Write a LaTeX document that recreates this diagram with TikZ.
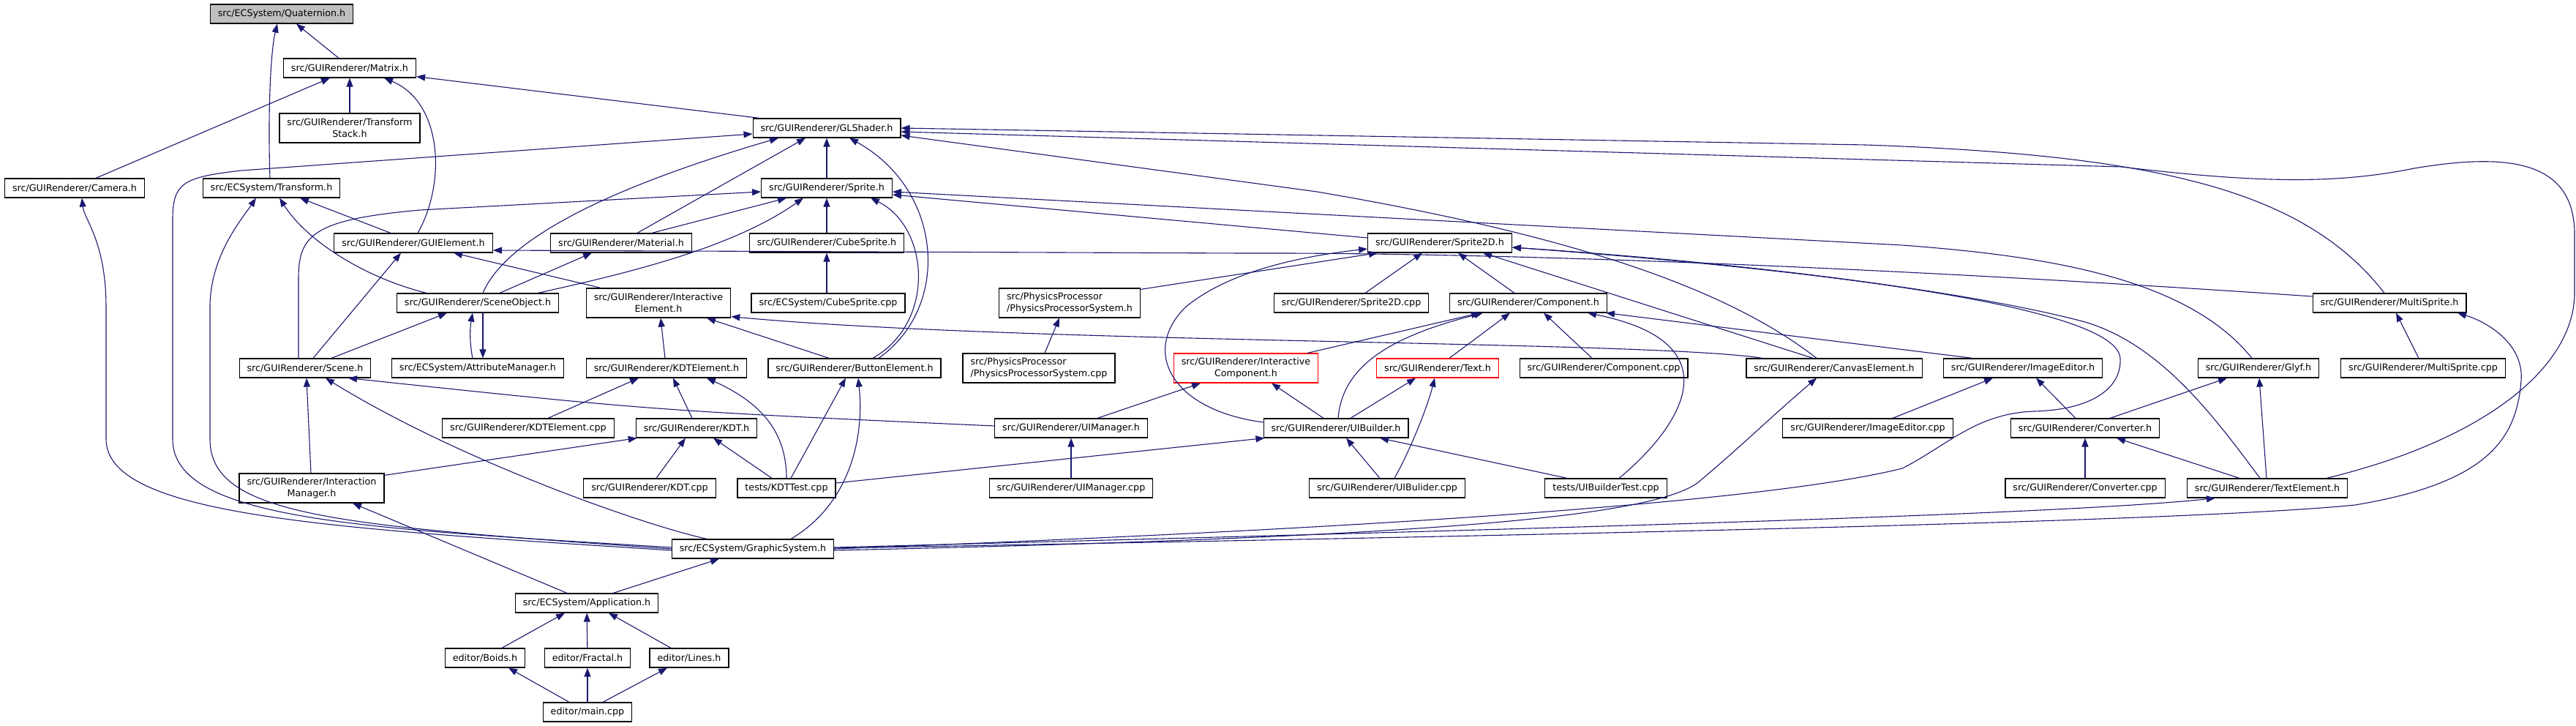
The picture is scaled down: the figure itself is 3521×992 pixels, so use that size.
\documentclass[tikz,border=0pt]{standalone}
\usepackage{fontspec}
\newfontfamily\dejavu{DejaVu Sans}
\usetikzlibrary{arrows.meta}
\definecolor{edgeblue}{HTML}{191970}
\definecolor{headgray}{HTML}{BFBFBF}

\begin{document}
\begin{tikzpicture}[x=1pt,y=-1pt,
  file/.style={draw=black,line width=1.2pt,fill=white,align=center,
    inner xsep=10.5pt,inner ysep=3pt,minimum height=26pt,
    font=\dejavu\fontsize{12.7}{16}\selectfont},
  twoline/.style={minimum height=40pt},
  trunc/.style={file,draw=red},
  inc/.style={draw=edgeblue,line width=1.1pt,-{Triangle[length=12pt,width=9pt]}}]

\useasboundingbox (0,0) rectangle (3521,992);

% files
\node[file,fill=headgray] (Quaternion) at (385,19) {src/ECSystem/Quaternion.h};
\node[file] (Matrix) at (478,93) {src/GUIRenderer/Matrix.h};
\node[file,twoline] (TransformStack) at (478,175) {src/GUIRenderer/Transform\\Stack.h};
\node[file] (GLShader) at (1130,175) {src/GUIRenderer/GLShader.h};
\node[file] (Camera) at (102,257) {src/GUIRenderer/Camera.h};
\node[file] (Transform) at (371,257) {src/ECSystem/Transform.h};
\node[file] (Sprite) at (1130,257) {src/GUIRenderer/Sprite.h};
\node[file] (GUIElement) at (565,332) {src/GUIRenderer/GUIElement.h};
\node[file] (Material) at (849,332) {src/GUIRenderer/Material.h};
\node[file] (CubeSprite) at (1130,332) {src/GUIRenderer/CubeSprite.h};
\node[file] (Sprite2D) at (1968,332) {src/GUIRenderer/Sprite2D.h};
\node[file] (SceneObject) at (653,414) {src/GUIRenderer/SceneObject.h};
\node[file,twoline] (InteractiveElement) at (900,414) {src/GUIRenderer/Interactive\\Element.h};
\node[file] (CubeSpriteCpp) at (1132,414) {src/ECSystem/CubeSprite.cpp};
\node[file,twoline,align=left] (PhysicsH) at (1462,414) {src/PhysicsProcessor\\/PhysicsProcessorSystem.h};
\node[file] (Sprite2DCpp) at (1847,414) {src/GUIRenderer/Sprite2D.cpp};
\node[file] (Component) at (2089,414) {src/GUIRenderer/Component.h};
\node[file] (MultiSprite) at (3266,414) {src/GUIRenderer/MultiSprite.h};
\node[file] (Scene) at (417,503) {src/GUIRenderer/Scene.h};
\node[file] (AttributeManager) at (653,503) {src/ECSystem/AttributeManager.h};
\node[file] (KDTElement) at (911,503) {src/GUIRenderer/KDTElement.h};
\node[file] (ButtonElement) at (1168,503) {src/GUIRenderer/ButtonElement.h};
\node[file,twoline,align=left] (PhysicsCpp) at (1420,503) {src/PhysicsProcessor\\/PhysicsProcessorSystem.cpp};
\node[trunc,twoline] (InteractiveComponent) at (1703,503) {src/GUIRenderer/Interactive\\Component.h};
\node[trunc] (Text) at (1965,503) {src/GUIRenderer/Text.h};
\node[file] (ComponentCpp) at (2192,503) {src/GUIRenderer/Component.cpp};
\node[file] (CanvasElement) at (2507,503) {src/GUIRenderer/CanvasElement.h};
\node[file] (ImageEditor) at (2765,503) {src/GUIRenderer/ImageEditor.h};
\node[file] (Glyf) at (3087,503) {src/GUIRenderer/Glyf.h};
\node[file] (MultiSpriteCpp) at (3312,503) {src/GUIRenderer/MultiSprite.cpp};
\node[file] (KDTElementCpp) at (722,585) {src/GUIRenderer/KDTElement.cpp};
\node[file] (KDT) at (952,585) {src/GUIRenderer/KDT.h};
\node[file] (UIManager) at (1464,585) {src/GUIRenderer/UIManager.h};
\node[file] (UIBuilder) at (1826,585) {src/GUIRenderer/UIBuilder.h};
\node[file] (ImageEditorCpp) at (2553,585) {src/GUIRenderer/ImageEditor.cpp};
\node[file] (Converter) at (2850,585) {src/GUIRenderer/Converter.h};
\node[file,twoline] (InteractionManager) at (426,667) {src/GUIRenderer/Interaction\\Manager.h};
\node[file] (KDTCpp) at (888,667) {src/GUIRenderer/KDT.cpp};
\node[file] (KDTTest) at (1075,667) {tests/KDTTest.cpp};
\node[file] (UIManagerCpp) at (1464,667) {src/GUIRenderer/UIManager.cpp};
\node[file] (UIBuliderCpp) at (1896,667) {src/GUIRenderer/UIBulider.cpp};
\node[file] (UIBuilderTest) at (2195,667) {tests/UIBuilderTest.cpp};
\node[file] (ConverterCpp) at (2850,667) {src/GUIRenderer/Converter.cpp};
\node[file] (TextElement) at (3099,667) {src/GUIRenderer/TextElement.h};
\node[file] (GraphicSystem) at (1029,750) {src/ECSystem/GraphicSystem.h};
\node[file] (Application) at (802,824) {src/ECSystem/Application.h};
\node[file] (Boids) at (663,899) {editor/Boids.h};
\node[file] (Fractal) at (803,899) {editor/Fractal.h};
\node[file] (Lines) at (942,899) {editor/Lines.h};
\node[file] (Main) at (803,973) {editor/main.cpp};

% Quaternion, Matrix
\draw[inc] ([xshift=-15pt]Matrix.north) -- ([xshift=20pt]Quaternion.south);
\draw[inc] ([xshift=-2pt]Transform.north) .. controls (366,150) and (370,70) .. ([xshift=-6pt]Quaternion.south);
\draw[inc] (TransformStack) -- (Matrix);
\draw[inc] ([xshift=29pt]Camera.north) -- ([xshift=-27pt]Matrix.south);
\draw[inc] ([xshift=6pt]GUIElement.north) .. controls (610,250) and (605,140) .. ([xshift=47pt]Matrix.south);
\draw[inc] ([xshift=-92pt]GLShader.north) -- ([yshift=2pt]Matrix.south east);

% GLShader
\draw[inc] (Sprite) -- (GLShader);
\draw[inc] ([xshift=22pt]Material.north) -- ([xshift=-29pt]GLShader.south);
\draw[inc] ([xshift=7pt]SceneObject.north) .. controls (690,330) and (820,260) .. ([xshift=-66pt]GLShader.south);
\draw[inc] ([xshift=33pt]ButtonElement.north) .. controls (1300,420) and (1290,260) .. ([xshift=31pt]GLShader.south);
\draw[inc] ([xshift=-24pt]CanvasElement.north) .. controls (2380,410) and (2200,330) .. (1800,262) -- ([yshift=-10pt]GLShader.east);
\draw[inc] ([xshift=-7pt]MultiSprite.north) .. controls (3150,260) and (2950,212) .. (2550,198) -- (GLShader.east);
\draw[inc] ([xshift=81pt]TextElement.north) .. controls (3400,600) and (3519,500) .. (3519,400) -- (3519,320)
  .. controls (3519,215) and (3420,210) .. (3300,230) .. controls (3200,250) and (3100,252) .. (2900,228)
  -- ([yshift=-5pt]GLShader.east);
\draw[inc] ([yshift=2pt]GraphicSystem.west) .. controls (500,722) and (236,712) .. (236,600) -- (236,300)
  .. controls (236,250) and (250,242) .. (330,233) -- ([yshift=-8pt]GLShader.west);

% Camera, Transform
\draw[inc] ([yshift=-2pt]GraphicSystem.west) .. controls (450,722) and (145,705) .. (145,600) -- (145,420)
  .. controls (145,330) and (115,300) .. ([xshift=10pt]Camera.south);
\draw[inc] (GraphicSystem.west) .. controls (460,718) and (287,705) .. (287,600) -- (287,420)
  .. controls (287,350) and (330,300) .. ([xshift=-21pt]Transform.south);
\draw[inc] ([xshift=-70pt]SceneObject.north) .. controls (500,380) and (420,330) .. ([xshift=11pt]Transform.south);
\draw[inc] ([xshift=-31pt]GUIElement.north) -- ([xshift=39pt]Transform.south);

% Sprite
\draw[inc] (CubeSprite) -- (Sprite);
\draw[inc] ([xshift=42pt]Material.north) -- ([xshift=-55pt]Sprite.south);
\draw[inc] ([xshift=82pt]SceneObject.north) .. controls (850,375) and (1000,340) .. ([xshift=-32pt]Sprite.south);
\draw[inc] ([xshift=25pt]ButtonElement.north) .. controls (1280,440) and (1270,310) .. ([xshift=60pt]Sprite.south);
\draw[inc] ([xshift=-9pt]Scene.north) -- (408,380) .. controls (408,320) and (430,300) .. (574,287) -- ([yshift=-5pt]Sprite.west);
\draw[inc] ([xshift=-9pt]Glyf.north) .. controls (2990,380) and (2800,350) .. (2600,335) -- ([yshift=-5pt]Sprite.east);
\draw[inc] ([yshift=7pt]Sprite2D.west) -- ([yshift=-9pt]Sprite.east);

% GUIElement
\draw[inc] ([xshift=11pt]Scene.north) -- ([xshift=-17pt]GUIElement.south);
\draw[inc] ([xshift=-79pt]InteractiveElement.north) -- ([xshift=55pt]GUIElement.south);
\draw[inc] ([yshift=9pt]MultiSprite.west) .. controls (2500,360) and (2000,345) .. (1700,346) -- ([yshift=-10pt]GUIElement.east);

% SceneObject, Material
\draw[inc] ([xshift=30pt]SceneObject.north) -- ([xshift=-40pt]Material.south);
\draw[inc] ([xshift=36pt]Scene.north) -- ([xshift=-42pt]SceneObject.south);
\draw[inc] ([xshift=-7pt]AttributeManager.north) .. controls (642,470) and (642,450) .. ([xshift=-7pt]SceneObject.south);
\draw[inc] ([xshift=7pt]SceneObject.south) -- ([xshift=7pt]AttributeManager.north);

% InteractiveElement
\draw[inc] ([xshift=-2pt]KDTElement.north) -- ([xshift=3pt]InteractiveElement.south);
\draw[inc] ([xshift=-35pt]ButtonElement.north) -- ([xshift=66pt]InteractiveElement.south);
\draw[inc] ([xshift=-98pt]CanvasElement.north) .. controls (2250,465) and (1400,470) .. ([yshift=2pt]InteractiveElement.south east);

% CubeSprite, PhysicsProcessor
\draw[inc] ([xshift=-2pt]CubeSpriteCpp.north) -- (CubeSprite.south);
\draw[inc] ([xshift=8pt]PhysicsCpp.north) -- ([xshift=-14pt]PhysicsH.south);

% Sprite2D
\draw[inc] ([yshift=-2pt]PhysicsH.north east) -- ([xshift=-85pt]Sprite2D.south);
\draw[inc] ([xshift=19pt]Sprite2DCpp.north) -- ([xshift=-24pt]Sprite2D.south);
\draw[inc] ([xshift=-19pt]Component.north) -- ([xshift=25pt]Sprite2D.south);
\draw[inc] ([xshift=-29pt]CanvasElement.north) -- ([xshift=59pt]Sprite2D.south);
\draw[inc] ([yshift=8pt]UIBuilder.west) .. controls (1600,560) and (1560,480) .. (1620,420)
  .. controls (1680,370) and (1780,350) .. ([yshift=-8pt]Sprite2D.west);
\draw[inc] (GraphicSystem.east) .. controls (1800,725) and (2400,690) .. (2600,640)
  .. controls (2660,610) and (2700,565) .. (2780,562) .. controls (2860,560) and (2900,530) .. (2898,490)
  .. controls (2895,420) and (2500,370) .. ([yshift=-6pt]Sprite2D.east);
\draw[inc] ([xshift=-10pt]TextElement.north) .. controls (3020,560) and (2950,470) .. (2850,440)
  .. controls (2700,400) and (2400,360) .. ([yshift=-6pt]Sprite2D.east);

% Component
\draw[inc] ([xshift=84pt]InteractiveComponent.north) -- ([xshift=-66pt]Component.south);
\draw[inc] ([xshift=3pt]UIBuilder.north) .. controls (1835,500) and (1900,460) .. ([xshift=-62pt]Component.south);
\draw[inc] ([xshift=16pt]Text.north) -- ([xshift=-25pt]Component.south);
\draw[inc] ([xshift=-16pt]ComponentCpp.north) -- ([xshift=21pt]Component.south);
\draw[inc] ([xshift=18pt]UIBuilderTest.north) .. controls (2290,590) and (2380,470) .. ([xshift=81pt]Component.south);
\draw[inc] ([xshift=-69pt]ImageEditor.north) -- ([xshift=-2pt]Component.south east);

% InteractiveComponent, Text
\draw[inc] ([xshift=36pt]UIManager.north) -- ([xshift=-62pt]InteractiveComponent.south);
\draw[inc] ([xshift=-17pt]UIBuilder.north) -- ([xshift=35pt]InteractiveComponent.south);
\draw[inc] ([xshift=20pt]UIBuilder.north) -- ([xshift=-30pt]Text.south);
\draw[inc] ([xshift=10pt]UIBuliderCpp.north) .. controls (1925,620) and (1950,560) .. ([xshift=-4pt]Text.south);

% UIBuilder, UIManager
\draw[inc] ([xshift=-10pt]UIBuliderCpp.north) -- ([xshift=14pt]UIBuilder.south);
\draw[inc] ([xshift=-53pt]UIBuilderTest.north) -- ([xshift=60pt]UIBuilder.south);
\draw[inc] ([yshift=7pt]KDTTest.east) -- ([xshift=2pt]UIBuilder.south west);
\draw[inc] (UIManagerCpp) -- (UIManager);
\draw[inc] ([yshift=3pt]UIManager.west) .. controls (895,561) .. ([xshift=59pt]Scene.south);

% Scene
\draw[inc] ([xshift=-1pt]InteractionManager.north) -- ([xshift=2pt]Scene.south);
\draw[inc] ([xshift=-63pt]GraphicSystem.north) .. controls (870,715) and (620,625) .. ([xshift=28pt]Scene.south);

% KDTElement, KDT
\draw[inc] ([xshift=-6pt]KDT.north) -- ([xshift=9pt]KDTElement.south);
\draw[inc] ([xshift=27pt]KDTElementCpp.north) -- ([xshift=-38pt]KDTElement.south);
\draw[inc] (KDTTest.north) .. controls (1075,590) and (1040,550) .. ([xshift=55pt]KDTElement.south);
\draw[inc] ([xshift=9pt]KDTCpp.north) -- ([xshift=-15pt]KDT.south);
\draw[inc] ([xshift=-20pt]KDTTest.north) -- ([xshift=23pt]KDT.south);
\draw[inc] ([yshift=-3pt]InteractionManager.north east) -- ([xshift=2pt]KDT.south west);

% ButtonElement
\draw[inc] ([xshift=6pt]KDTTest.north) -- ([xshift=-12pt]ButtonElement.south);
\draw[inc] ([xshift=52pt]GraphicSystem.north) .. controls (1160,690) and (1182,600) .. ([xshift=5pt]ButtonElement.south);

% ImageEditor, Glyf, Converter, MultiSprite
\draw[inc] ([xshift=34pt]ImageEditorCpp.north) -- ([xshift=-41pt]ImageEditor.south);
\draw[inc] ([xshift=-13pt]Converter.north) -- ([xshift=18pt]ImageEditor.south);
\draw[inc] ([xshift=34pt]Converter.north) -- ([xshift=-43pt]Glyf.south);
\draw[inc] ([xshift=-1pt]TextElement.north) -- ([xshift=1pt]Glyf.south);
\draw[inc] (ConverterCpp) -- (Converter);
\draw[inc] ([xshift=-38pt]TextElement.north) -- ([xshift=43pt]Converter.south);
\draw[inc] ([xshift=-6pt]MultiSpriteCpp.north) -- ([xshift=9pt]MultiSprite.south);

% GraphicSystem to the right
\draw[inc] ([yshift=-2pt]GraphicSystem.east) .. controls (1900,735) and (2250,710) .. (2320,660)
  .. controls (2380,610) and (2420,570) .. ([xshift=-24pt]CanvasElement.south);
\draw[inc] ([yshift=2pt]GraphicSystem.east) .. controls (2000,725) and (2800,705) .. ([xshift=-71pt]TextElement.south);
\draw[inc] ([yshift=1pt]GraphicSystem.east) .. controls (2200,730) and (3000,712) .. (3219,690)
  .. controls (3400,660) and (3440,600) .. (3446,520) .. controls (3450,470) and (3400,440) .. ([xshift=93pt]MultiSprite.south);

% Application, editor
\draw[inc] ([xshift=-27pt]Application.north) -- ([xshift=56pt]InteractionManager.south);
\draw[inc] ([xshift=36pt]Application.north) -- ([xshift=-46pt]GraphicSystem.south);
\draw[inc] ([xshift=23pt]Boids.north) -- ([xshift=-30pt]Application.south);
\draw[inc] (Fractal) -- (Application);
\draw[inc] ([xshift=-25pt]Lines.north) -- ([xshift=30pt]Application.south);
\draw[inc] ([xshift=-25pt]Main.north) -- ([xshift=32pt]Boids.south);
\draw[inc] (Main) -- (Fractal);
\draw[inc] ([xshift=21pt]Main.north) -- ([xshift=-30pt]Lines.south);

\end{tikzpicture}
\end{document}
